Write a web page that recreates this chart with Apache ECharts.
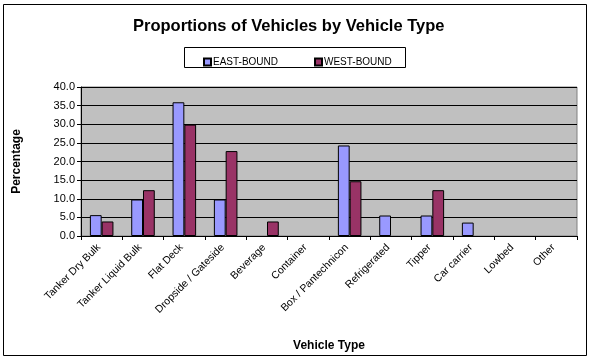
<!DOCTYPE html>
<html><head><meta charset="utf-8">
<script src="https://cdn.jsdelivr.net/npm/echarts@6/dist/echarts.min.js"></script>
<style>html,body{margin:0;padding:0;background:#fff}#c{width:591px;height:361px}</style>
</head><body><div id="c"></div>
<script>
const categories = ["Tanker Dry Bulk","Tanker Liquid Bulk","Flat Deck","Dropside / Gateside","Beverage","Container","Box / Pantechnicon","Refrigerated","Tipper","Car carrier","Lowbed","Other"];
const eastBound = [5.6, 9.8, 35.9, 9.8, 0, 0, 24.3, 5.5, 5.5, 3.6, 0, 0];
const westBound = [3.9, 12.3, 29.9, 22.8, 3.9, 0, 14.7, 0, 12.3, 0, 0, 0];
const seriesNames = ["EAST-BOUND", "WEST-BOUND"];
const yTicks = {min: 0, max: 40, interval: 5};

const hideZero = arr => arr.map(v => v === 0 ? '-' : v);

const chart = echarts.init(document.getElementById('c'));
chart.setOption({
  animation: false,
  backgroundColor: '#fff',
  textStyle: {fontFamily: 'Arial, "Liberation Sans", sans-serif'},
  title: {text: 'Proportions of Vehicles by Vehicle Type', left: 128, top: 13,
    textStyle: {fontSize: 16.5, fontWeight: 'bold', color: '#000', fontFamily: 'Arial, "Liberation Sans", sans-serif'}},
  legend: {top: 52, left: 198, itemGap: 36, itemWidth: 7, itemHeight: 7, icon: 'rect',
    textStyle: {fontSize: 10, color: '#000', padding: [0,0,0,-3]},
    data: seriesNames},
  grid: {left: 81, right: 14, top: 87, bottom: 125, show: true, backgroundColor: '#C0C0C0', borderColor: '#808080', borderWidth: 1},
  xAxis: {type: 'category', data: categories, name: 'Vehicle Type', nameLocation: 'middle', nameGap: 104,
    nameTextStyle: {fontSize: 12, fontWeight: 'bold', color: '#000'},
    axisLine: {lineStyle: {color: '#000'}}, axisTick: {show: true, lineStyle: {color: '#000'}, length: 4},
    axisLabel: {rotate: 45, fontSize: 10.5, color: '#000', margin: 7, interval: 0, padding: [0, 4, 0, 0]}},
  yAxis: {type: 'value', min: yTicks.min, max: yTicks.max, interval: yTicks.interval,
    name: 'Percentage', nameLocation: 'middle', nameGap: 58, nameRotate: 90,
    nameTextStyle: {fontSize: 12, fontWeight: 'bold', color: '#000'},
    axisLine: {show: true, lineStyle: {color: '#000'}}, axisTick: {show: true, lineStyle: {color: '#000'}, length: 4, inside: false},
    axisLabel: {fontSize: 11, color: '#000', formatter: v => v.toFixed(1), margin: 6},
    splitLine: {show: true, lineStyle: {color: '#000', width: 1}}},
  series: [
    {name: seriesNames[0], type: 'bar', data: hideZero(eastBound), barGap: '0%', barCategoryGap: '43%',
      itemStyle: {color: '#9999FF', borderColor: '#000', borderWidth: 1}},
    {name: seriesNames[1], type: 'bar', data: hideZero(westBound), barGap: '0%', barCategoryGap: '43%',
      itemStyle: {color: '#993366', borderColor: '#000', borderWidth: 1}}
  ],
  graphic: [
    {type: 'rect', shape: {x: 3.5, y: 4.5, width: 583, height: 351}, style: {fill: null, stroke: '#000', lineWidth: 1}, silent: true, z: 100},
    {type: 'rect', shape: {x: 184.5, y: 47.5, width: 221, height: 20}, style: {fill: null, stroke: '#000', lineWidth: 1}, silent: true, z: 100}
  ]
});
</script></body></html>
